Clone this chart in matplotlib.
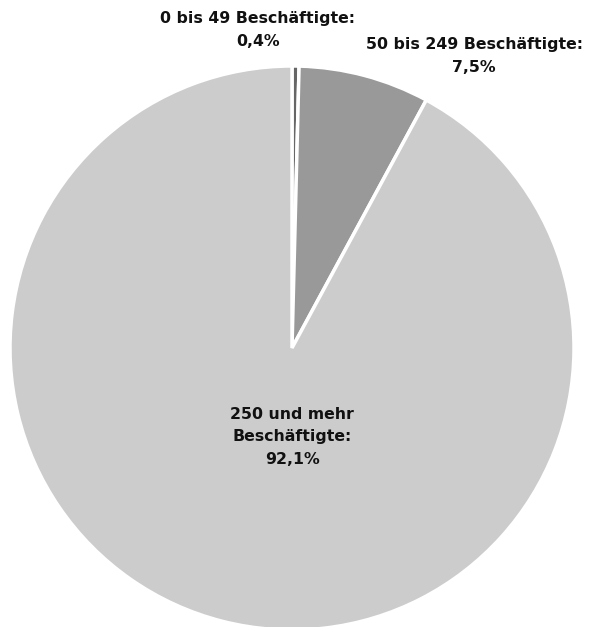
import matplotlib.pyplot as plt

labels = ["0 bis 49 Beschäftigte:", "50 bis 249 Beschäftigte:", "250 und mehr\nBeschäftigte:"]
shares = [0.4, 7.5, 92.1]
share_text = ["0,4%", "7,5%", "92,1%"]
colors = ["#666666", "#999999", "#cccccc"]

H = 627


def main() -> None:
    fig = plt.figure(figsize=(5.98, 6.27), dpi=100)
    ax = fig.add_axes([0, 0, 1, 1])

    ax.pie(shares, colors=colors, startangle=90, counterclock=False,
           center=(292, H - 348), radius=282,
           wedgeprops={"edgecolor": "white", "linewidth": 2.5})
    ax.set_xlim(0, 598)
    ax.set_ylim(0, H)
    ax.set_aspect("auto")
    ax.axis("off")

    font = {"fontsize": 11.3, "fontweight": "bold", "color": "#111111",
            "ha": "center", "va": "center", "linespacing": 1.6}
    ax.text(258, H - 30, f"{labels[0]}\n{share_text[0]}", **font)
    ax.text(474, H - 56, f"{labels[1]}\n{share_text[1]}", **font)
    ax.text(292, H - 437, f"{labels[2]}\n{share_text[2]}", **font)

    fig.savefig("out.png", dpi=100)
    plt.close(fig)


if __name__ == "__main__":
    main()
